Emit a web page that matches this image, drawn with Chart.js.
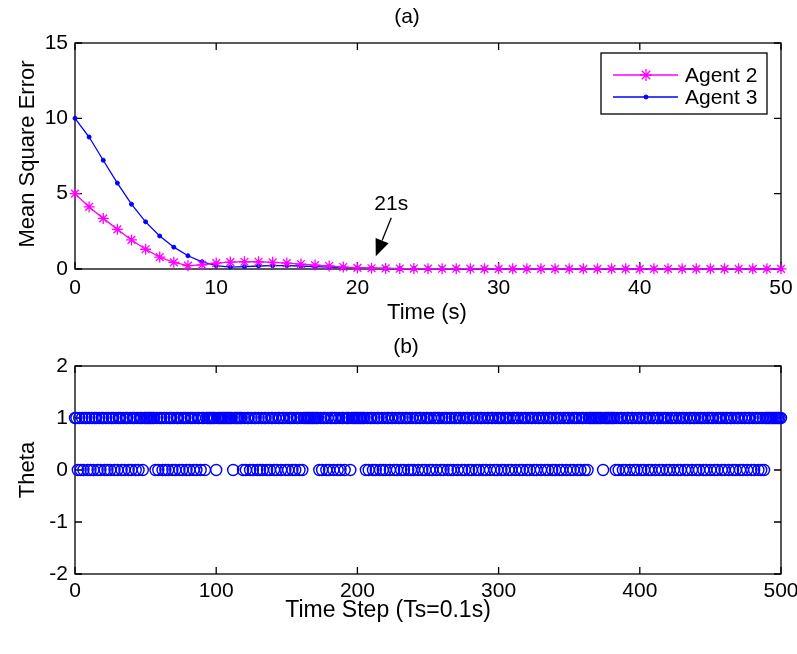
<!DOCTYPE html>
<html>
<head>
<meta charset="utf-8">
<title>Mean Square Error / Theta</title>
<script src="https://cdn.jsdelivr.net/npm/chart.js@4.4.0/dist/chart.umd.min.js"></script>
<style>
  body { margin: 0; background: #fff; }
  #wrap { position: relative; width: 797px; height: 654px; overflow: hidden; }
  #chartA { position: absolute; left: 0; top: 0; }
  #chartB { position: absolute; left: 0; top: 330px; }
</style>
</head>
<body>
<div id="wrap">
  <canvas id="chartA" width="797" height="330"></canvas>
  <canvas id="chartB" width="797" height="324"></canvas>
</div>
<script>
// ---- (a) MEAN SQUARE ERROR, sampled every second ----
var timeSec = [0, 1, 2, 3, 4, 5, 6, 7, 8, 9, 10, 11, 12, 13, 14, 15, 16, 17, 18, 19, 20,
               21, 22, 23, 24, 25, 26, 27, 28, 29, 30, 31, 32, 33, 34, 35, 36, 37, 38, 39, 40,
               41, 42, 43, 44, 45, 46, 47, 48, 49, 50];
var agent2 = [5.0, 4.12, 3.36, 2.63, 1.93, 1.31, 0.79, 0.44, 0.22, 0.28, 0.39, 0.46, 0.48, 0.48, 0.44, 0.39, 0.33, 0.26, 0.2, 0.13, 0.07,
              0.05, 0.04, 0.03, 0.03, 0.02, 0.02, 0.02, 0.02, 0.01, 0.01, 0.01, 0.01, 0.01, 0.01, 0.01, 0.01, 0.01, 0.01, 0.01, 0.01,
              0.01, 0.01, 0.01, 0.01, 0.01, 0.01, 0.01, 0.01, 0.01, 0.01];
var agent3 = [10.0, 8.76, 7.22, 5.7, 4.3, 3.13, 2.19, 1.45, 0.88, 0.48, 0.22, 0.13, 0.16, 0.2, 0.22, 0.22, 0.2, 0.16, 0.13, 0.1, 0.07,
              0.05, 0.04, 0.03, 0.03, 0.02, 0.02, 0.02, 0.01, 0.01, 0.01, 0.01, 0.01, 0.01, 0.01, 0.01, 0.01, 0.01, 0.01, 0.01, 0.01,
              0.01, 0.01, 0.01, 0.01, 0.01, 0.01, 0.01, 0.01, 0.01, 0.01];
var xTicksA = [0, 10, 20, 30, 40, 50];
var yTicksA = [0, 5, 10, 15];
var arrowNote = { text: "21s", textX: 22.4, textY: 4.27, tailX: 22.4, tailY: 3.4, tipX: 21.3, tipY: 0.84 };

// ---- (b) THETA per time step (0..500), value is 0 at these steps, 1 elsewhere ----
var lastStep = 500;
var zeroSteps = [2, 4, 6, 9, 11, 13, 16, 18, 21, 23, 25, 28, 30, 33, 35, 38, 40, 43, 45, 48,
                 57, 59, 62, 64, 66, 69, 71, 74, 76, 79, 81, 84, 86, 89, 92,
                 100, 112,
                 119, 121, 124, 126, 129, 131, 133, 136, 138, 141, 143, 146, 149, 151, 154, 156, 159, 161,
                 173, 175, 178, 180, 183, 186, 188, 191, 195,
                 206, 208, 211, 213, 216, 218, 220, 223, 226, 228, 231, 233, 236, 238, 240, 243, 246, 248, 251, 253,
                 256, 259, 261, 264, 266, 268, 271, 274, 276, 279, 281, 284, 286, 289, 291, 294, 297, 299, 302, 304,
                 307, 309, 312, 315, 317, 320, 322, 325, 327, 330, 333, 335, 338, 340, 343, 345, 348, 351, 353, 356,
                 358, 361, 363,
                 374,
                 383, 385, 388, 390, 393, 396, 398, 401, 403, 406, 408, 411, 414, 416, 419, 421, 424, 427, 429, 432,
                 434, 437, 440, 442, 445, 447, 450, 453, 455, 458, 460, 463, 466, 468, 471, 473, 476, 479, 481, 484,
                 486, 488];
var xTicksB = [0, 100, 200, 300, 400, 500];
var yTicksB = [-2, -1, 0, 1, 2];

var FONT = "'Liberation Sans', Arial, sans-serif";
Chart.defaults.font.family = FONT;
Chart.defaults.font.size = 21;
Chart.defaults.color = '#000';
Chart.defaults.animation = false;

// MATLAB LOOKING BOX WITH INWARD TICKS ON ALL FOUR SIDES
var axesBox = {
    id: 'axesBox',
    beforeDatasetsDraw: function(chart) {
        var ctx = chart.ctx;
        var a = chart.chartArea;
        var xs = chart.scales.x;
        var ys = chart.scales.y;
        var len = 7;
        ctx.save();
        ctx.strokeStyle = '#000';
        ctx.lineWidth = 1.3;
        ctx.strokeRect(a.left, a.top, a.right - a.left, a.bottom - a.top);
        ctx.beginPath();
        xs.ticks.forEach(function(t) {
            var px = xs.getPixelForValue(t.value);
            ctx.moveTo(px, a.bottom); ctx.lineTo(px, a.bottom - len);
            ctx.moveTo(px, a.top); ctx.lineTo(px, a.top + len);
        });
        ys.ticks.forEach(function(t) {
            var py = ys.getPixelForValue(t.value);
            ctx.moveTo(a.left, py); ctx.lineTo(a.left + len, py);
            ctx.moveTo(a.right, py); ctx.lineTo(a.right - len, py);
        });
        ctx.stroke();
        ctx.restore();
    }
};

// TITLES AND AXIS NAMES
var axisTexts = {
    id: 'axisTexts',
    afterDraw: function(chart, args, opts) {
        var ctx = chart.ctx;
        ctx.save();
        ctx.fillStyle = '#000';
        ctx.textAlign = 'center';
        ctx.textBaseline = 'middle';
        ctx.font = "21px " + FONT;
        ctx.fillText(opts.title, opts.titleX, opts.titleY);
        ctx.font = opts.xTitleSize + "px " + FONT;
        ctx.fillText(opts.xTitle, opts.xTitleX, opts.xTitleY);
        ctx.font = "22px " + FONT;
        ctx.translate(opts.yTitleX, opts.yTitleY);
        ctx.rotate(-Math.PI / 2);
        ctx.fillText(opts.yTitle, 0, 0);
        ctx.restore();
    }
};

function tickList(values) {
    return function(scale) {
        scale.ticks = values.map(function(v) { return { value: v }; });
    };
}

function makeScales(xMin, xMax, xTicks, yMin, yMax, yTicks, xHeight, xPad) {
    return {
        x: {
            type: 'linear', min: xMin, max: xMax,
            afterBuildTicks: tickList(xTicks),
            ticks: { padding: xPad, maxRotation: 0, autoSkip: false },
            grid: { display: false, drawTicks: false },
            border: { display: false },
            afterFit: function(s) { s.height = xHeight; s.paddingLeft = 0; s.paddingRight = 0; }
        },
        y: {
            type: 'linear', min: yMin, max: yMax,
            afterBuildTicks: tickList(yTicks),
            ticks: { padding: 7, autoSkip: false },
            grid: { display: false, drawTicks: false },
            border: { display: false },
            afterFit: function(s) { s.width = 75; s.paddingTop = 0; s.paddingBottom = 0; }
        }
    };
}

// ---------- CHART (a) ----------
var legendA = {
    id: 'legendA',
    afterDraw: function(chart) {
        var ctx = chart.ctx;
        var xs = chart.scales.x, ys = chart.scales.y;

        // annotation arrow "21s"
        var tx = xs.getPixelForValue(arrowNote.tailX), ty = ys.getPixelForValue(arrowNote.tailY);
        var hx = xs.getPixelForValue(arrowNote.tipX), hy = ys.getPixelForValue(arrowNote.tipY);
        var ang = Math.atan2(hy - ty, hx - tx);
        var headLen = 17, headW = 7;
        var bx = hx - Math.cos(ang) * headLen, by = hy - Math.sin(ang) * headLen;
        ctx.save();
        ctx.strokeStyle = '#000';
        ctx.fillStyle = '#000';
        ctx.lineWidth = 1.3;
        ctx.beginPath();
        ctx.moveTo(tx, ty); ctx.lineTo(bx, by);
        ctx.stroke();
        ctx.beginPath();
        ctx.moveTo(hx, hy);
        ctx.lineTo(bx + Math.sin(ang) * headW, by - Math.cos(ang) * headW);
        ctx.lineTo(bx - Math.sin(ang) * headW, by + Math.cos(ang) * headW);
        ctx.closePath();
        ctx.fill();
        ctx.font = "21px " + FONT;
        ctx.textAlign = 'center';
        ctx.textBaseline = 'middle';
        ctx.fillText(arrowNote.text, xs.getPixelForValue(arrowNote.textX), ys.getPixelForValue(arrowNote.textY));

        // legend box
        var L = 601, T = 53, W = 166, H = 61;
        ctx.fillStyle = '#fff';
        ctx.fillRect(L, T, W, H);
        ctx.strokeStyle = '#000';
        ctx.lineWidth = 1.3;
        ctx.strokeRect(L, T, W, H);
        var ds = chart.data.datasets;
        var rows = [75, 97];
        for (var i = 0; i < ds.length; i++) {
            var y = rows[i];
            ctx.strokeStyle = ds[i].borderColor;
            ctx.fillStyle = ds[i].pointBackgroundColor;
            ctx.lineWidth = ds[i].borderWidth;
            ctx.beginPath();
            ctx.moveTo(613, y); ctx.lineTo(678, y);
            ctx.stroke();
            ctx.lineWidth = ds[i].pointBorderWidth;
            Chart.helpers.drawPoint(ctx, {
                pointStyle: ds[i].pointStyle,
                radius: ds[i].pointStyle == 'star' ? 6 : ds[i].pointRadius,
                borderWidth: ds[i].pointBorderWidth,
                rotation: 0
            }, 646, y);
            ctx.fillStyle = '#000';
            ctx.textAlign = 'left';
            ctx.fillText(ds[i].label, 685, y + 1);
        }
        ctx.restore();
    }
};

var ctxA = document.getElementById('chartA').getContext('2d');
var chartA = new Chart(ctxA, {
    type: 'line',
    data: {
        datasets: [
        {
            label: 'Agent 2',
            data: timeSec.map(function(t, i) { return { x: t, y: agent2[i] }; }),
            borderColor: '#ff00ff',
            backgroundColor: '#ff00ff',
            pointBackgroundColor: '#ff00ff',
            pointBorderColor: '#ff00ff',
            borderWidth: 1.3,
            pointStyle: 'star',
            pointRadius: 5.5,
            pointBorderWidth: 1.3,
            tension: 0,
            clip: false
        },
        {
            label: 'Agent 3',
            data: timeSec.map(function(t, i) { return { x: t, y: agent3[i] }; }),
            borderColor: '#0000ff',
            backgroundColor: '#0000ff',
            pointBackgroundColor: '#0000ff',
            pointBorderColor: '#0000ff',
            borderWidth: 1.3,
            pointStyle: 'circle',
            pointRadius: 2,
            pointBorderWidth: 1,
            tension: 0,
            clip: false
        }]
    },
    options: {
        responsive: false,
        layout: { padding: { top: 43, right: 16, left: 0, bottom: 0 } },
        scales: makeScales(0, 50, xTicksA, 0, 15, yTicksA, 61, 7),
        plugins: {
            legend: { display: false },
            tooltip: { enabled: false },
            axisTexts: { title: '(a)', titleX: 407, titleY: 17, xTitle: 'Time (s)', xTitleSize: 22, xTitleX: 427, xTitleY: 313,
                         yTitle: 'Mean Square Error', yTitleX: 28, yTitleY: 154 }
        }
    },
    plugins: [axesBox, axisTexts, legendA]
});

// ---------- CHART (b) ----------
var thetaPoints = [];
for (var k = 0; k <= lastStep; k++) {
    thetaPoints.push({ x: k, y: zeroSteps.indexOf(k) >= 0 ? 0 : 1 });
}

var ctxB = document.getElementById('chartB').getContext('2d');
var chartB = new Chart(ctxB, {
    type: 'scatter',
    data: {
        datasets: [
        {
            label: 'Theta',
            data: thetaPoints,
            showLine: false,
            borderColor: '#0000ff',
            backgroundColor: 'rgba(0,0,0,0)',
            pointBorderColor: '#0000ff',
            pointBackgroundColor: 'rgba(0,0,0,0)',
            pointStyle: 'circle',
            pointRadius: 5.5,
            pointBorderWidth: 1.4,
            clip: false
        }]
    },
    options: {
        responsive: false,
        layout: { padding: { top: 36, right: 16, left: 0, bottom: 0 } },
        scales: makeScales(0, 500, xTicksB, -2, 2, yTicksB, 80, 5),
        plugins: {
            legend: { display: false },
            tooltip: { enabled: false },
            axisTexts: { title: '(b)', titleX: 406, titleY: 17, xTitle: 'Time Step (Ts=0.1s)', xTitleSize: 23, xTitleX: 388, xTitleY: 281,
                         yTitle: 'Theta', yTitleX: 28, yTitleY: 140 }
        }
    },
    plugins: [axesBox, axisTexts]
});
</script>
</body>
</html>
